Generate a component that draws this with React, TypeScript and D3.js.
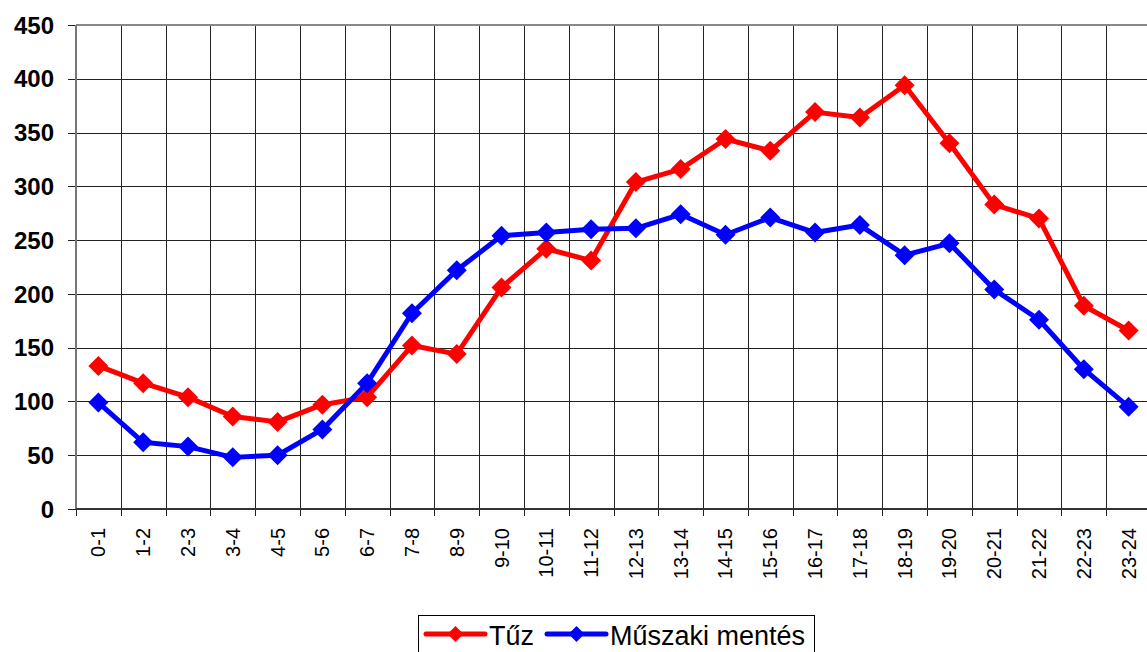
import React from 'react';
import * as d3 from 'd3';

const categories = [
  '0-1', '1-2', '2-3', '3-4', '4-5', '5-6', '6-7', '7-8', '8-9', '9-10', '10-11', '11-12',
  '12-13', '13-14', '14-15', '15-16', '16-17', '17-18', '18-19', '19-20', '20-21', '21-22', '22-23', '23-24',
];

const tuzValues = [
  133, 117, 104, 86, 81, 97, 104, 152, 144, 206, 242, 231,
  304, 316, 344, 333, 369, 364, 394, 340, 283, 270, 189, 166,
];

const muszakiValues = [
  99, 62, 58, 48, 50, 74, 117, 182, 222, 254, 257, 260,
  261, 274, 255, 271, 257, 264, 236, 247, 204, 176, 130, 95,
];

const yTicks = [0, 50, 100, 150, 200, 250, 300, 350, 400, 450];

const series = [
  { name: 'Tűz', color: '#ff0000', values: tuzValues },
  { name: 'Műszaki mentés', color: '#0000ff', values: muszakiValues },
];

const WIDTH = 1147;
const HEIGHT = 652;
const FONT = '"Liberation Sans", Arial, sans-serif';

function diamondPath(cx: number, cy: number, r: number) {
  return `M${cx},${cy - r}L${cx + r},${cy}L${cx},${cy + r}L${cx - r},${cy}Z`;
}

export default function App() {
  const margin = { top: 25, left: 76, bottom: 509, right: 1151 };

  const x = d3.scaleBand().domain(categories).range([margin.left, margin.right]).padding(0);
  const y = d3.scaleLinear().domain([0, 450]).range([margin.bottom, margin.top]);
  const cx = (c: string) => (x(c) || 0) + x.bandwidth() / 2;

  const line = d3.line<number>()
    .x((_, i) => cx(categories[i]))
    .y((v) => y(v));

  const boundaries = categories.map((c) => x(c) || 0).concat([margin.right]);

  return (
    <svg
      width={WIDTH}
      height={HEIGHT}
      style={{ position: 'absolute', left: 0, top: 0, background: '#fff' }}
      fontFamily={FONT}
    >
      {/* horizontal grid */}
      {yTicks.map((t) => (
        <line
          key={`h${t}`}
          x1={margin.left - 8}
          x2={margin.right}
          y1={Math.round(y(t)) + 0.5}
          y2={Math.round(y(t)) + 0.5}
          stroke="#222"
          strokeWidth={1}
        />
      ))}
      {/* vertical grid */}
      {boundaries.map((b, i) => (
        <line
          key={`v${i}`}
          x1={Math.round(b) + 0.5}
          x2={Math.round(b) + 0.5}
          y1={margin.top}
          y2={margin.bottom + 7}
          stroke="#222"
          strokeWidth={1}
        />
      ))}
      {/* borders */}
      <line x1={margin.left} x2={margin.right} y1={margin.top} y2={margin.top} stroke="#888" strokeWidth={2} />
      <line x1={margin.left} x2={margin.left} y1={margin.top} y2={margin.bottom} stroke="#777" strokeWidth={2} />
      <line x1={margin.left} x2={margin.right} y1={margin.bottom} y2={margin.bottom} stroke="#333" strokeWidth={2} />

      {/* y labels */}
      {yTicks.map((t) => (
        <text
          key={`yl${t}`}
          x={54}
          y={y(t)}
          dy="0.36em"
          textAnchor="end"
          fontSize={24}
          fontWeight="bold"
          fill="#000"
        >
          {t}
        </text>
      ))}

      {/* x labels */}
      {categories.map((c) => (
        <text
          key={`xl${c}`}
          transform={`translate(${cx(c) + 7},${528}) rotate(-90)`}
          textAnchor="end"
          fontSize={20}
          fill="#000"
        >
          {c}
        </text>
      ))}

      {/* series */}
      {series.map((s) => (
        <g key={s.name}>
          <path d={line(s.values) || ''} fill="none" stroke={s.color} strokeWidth={5} strokeLinejoin="round" />
          {s.values.map((v, i) => (
            <path key={i} d={diamondPath(cx(categories[i]), y(v), 10)} fill={s.color} />
          ))}
        </g>
      ))}

      {/* legend */}
      <rect x={418.5} y={615.5} width={396} height={50} fill="#fff" stroke="#000" strokeWidth={1} />
      <g>
        <line x1={426} x2={485} y1={634} y2={634} stroke="#ff0000" strokeWidth={5} strokeLinecap="round" />
        <path d={diamondPath(455.5, 634, 8)} fill="#ff0000" />
        <text x={489} y={645} fontSize={27} fill="#000">Tűz</text>
        <line x1={547} x2={606} y1={634} y2={634} stroke="#0000ff" strokeWidth={5} strokeLinecap="round" />
        <path d={diamondPath(576.5, 634, 8)} fill="#0000ff" />
        <text x={610} y={645} fontSize={27} fill="#000">Műszaki mentés</text>
      </g>
    </svg>
  );
}
